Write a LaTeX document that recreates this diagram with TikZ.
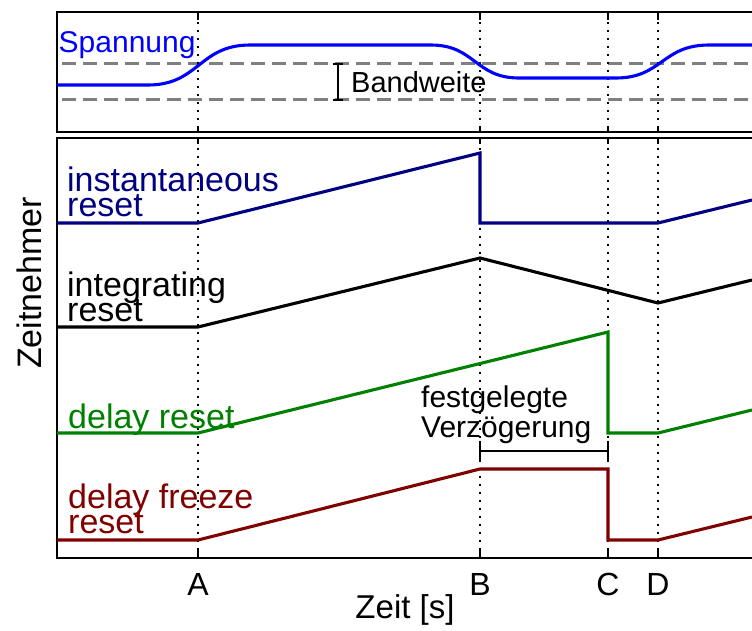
\documentclass[tikz,border=0pt]{standalone}
\usepackage{fontspec}
\setmainfont{Liberation Sans}
\setlength{\lineskiplimit}{-100pt}
\definecolor{navyc}{RGB}{0,0,128}
\definecolor{greenc}{RGB}{0,128,0}
\definecolor{redc}{RGB}{128,0,0}
\definecolor{bluec}{RGB}{0,0,255}
\definecolor{grayc}{RGB}{128,128,128}
\begin{document}
\begin{tikzpicture}[x=1pt,y=-1pt,
  axisline/.style={line width=2.8pt, black, line cap=rect},
  gridline/.style={line width=1.8pt, black, dash pattern=on 1.8pt off 6.2pt},
  tickline/.style={line width=2.4pt, black},
  bandline/.style={line width=3pt, grayc, dash pattern=on 14pt off 7pt},
  sig/.style={line width=3.1pt, line join=miter},
  lbl/.style={inner sep=0pt, anchor=south west, align=left, font=\fontsize{34}{25}\selectfont},
  txt/.style={inner sep=0pt, font=\fontsize{30}{30}\selectfont},
  bracketline/.style={line width=2.8pt, black}]
\useasboundingbox (0,0) rectangle (752,630);

% dashed band lines
\draw[bandline] (62,63) -- (752,63);
\draw[bandline] (62,99) -- (752,99);

% dotted vertical guide lines and ticks
\foreach \X in {198,480,608,658} {
  \draw[gridline] (\X,14) -- (\X,131);
  \draw[gridline] (\X,140) -- (\X,557);
  \draw[tickline] (\X,12) -- (\X,20);
  \draw[tickline] (\X,132) -- (\X,126);
  \draw[tickline] (\X,138) -- (\X,144);
  \draw[tickline] (\X,558) -- (\X,550);
}

% axes
\draw[axisline] (752,12) -- (57,12) -- (57,132) -- (752,132);
\draw[axisline] (752,138) -- (57,138) -- (57,558) -- (752,558);

% Spannung curve
\draw[sig, bluec] (57,85) -- (148,85) .. controls (199,85) and (199,45) .. (250,45)
  -- (431,45) .. controls (475,45) and (475,78) .. (519,78)
  -- (616,78) .. controls (662,78) and (662,45) .. (709,45) -- (752,45);
\node[txt, anchor=base west, text=bluec] (spannung) at (58.5,52) {Spannung};

% Bandweite bracket
\draw[bracketline] (333,64) -- (343,64) (338,64) -- (338,100) (333,100) -- (343,100);
\node[txt, anchor=base west, font=\fontsize{29}{29}\selectfont] (bandweite) at (351,92) {Bandweite};

% signals
\draw[sig, navyc] (57,223) -- (198,223) -- (480,153) -- (480,223) -- (658,223) -- (752,200);
\draw[sig, black] (57,327) -- (198,327) -- (480,258) -- (658,303) -- (752,280);
\draw[sig, greenc] (57,433) -- (198,433) -- (608,332) -- (608,433) -- (658,433) -- (752,410);
\draw[sig, redc] (57,540) -- (198,540) -- (480,469) -- (608,469) -- (608,540) -- (658,540) -- (752,517);

% signal labels
\node[lbl, text=navyc] (inst) at (67,217) {instantaneous\\reset};
\node[lbl, text=black] (integ) at (67,322) {integrating\\reset};
\node[lbl, anchor=base west, text=greenc] (delay) at (68,428) {delay reset};
\node[lbl, text=redc] (freeze) at (68,534) {delay freeze\\reset};

% delay bracket
\draw[bracketline] (480,451) -- (608,451) (480,441) -- (480,461) (608,441) -- (608,461);
\node[txt, anchor=south west, align=left, font=\fontsize{30}{30}\selectfont] (fest) at (421,444) {festgelegte\\Verzögerung};

% axis labels
\node[txt, anchor=base, font=\fontsize{32}{32}\selectfont] (la) at (198,595) {A};
\node[txt, anchor=base, font=\fontsize{32}{32}\selectfont] (lb) at (480,595) {B};
\node[txt, anchor=base, font=\fontsize{32}{32}\selectfont] (lc) at (608,595) {C};
\node[txt, anchor=base, font=\fontsize{32}{32}\selectfont] (ld) at (658,595) {D};
\node[txt, anchor=base, font=\fontsize{33}{33}\selectfont] (zeit) at (405,618) {Zeit [s]};
\node[txt, anchor=base, rotate=90, font=\fontsize{34}{34}\selectfont] (zeitnehmer) at (41,283) {Zeitnehmer};
\end{tikzpicture}
\end{document}
